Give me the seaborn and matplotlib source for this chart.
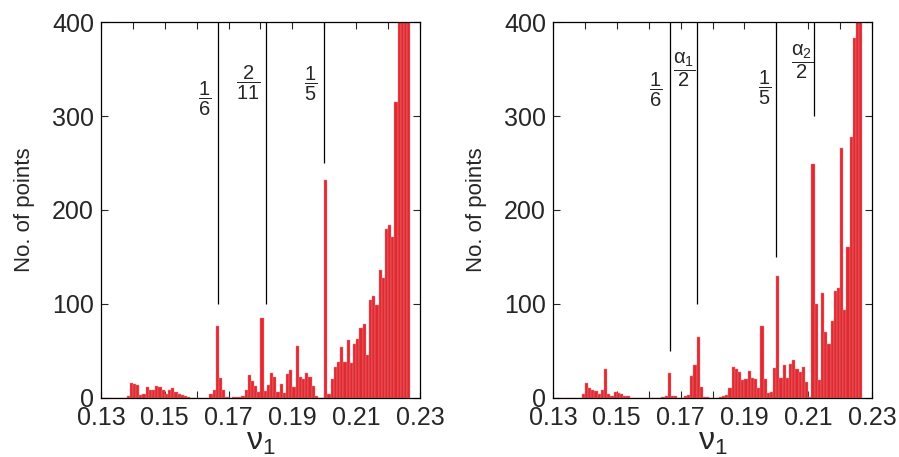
import numpy as np
import pandas as pd
import matplotlib
matplotlib.use("Agg")
import matplotlib.pyplot as plt
import seaborn as sns

# bin edges of the histogram (width 0.001)
bin_edges = np.round(np.arange(0.130, 0.2275, 0.001), 3)

# left panel counts, one per bin
counts_left = [0, 0, 0, 0, 0, 0, 0, 0,
               2, 16, 14, 13, 3, 4, 11, 8,
               8, 12, 11, 8, 4, 8, 10, 6,
               4, 3, 2, 1, 0, 0, 0, 0,
               0, 0, 4, 8, 76, 21, 8, 1,
               0, 1, 1, 1, 2, 8, 24, 18,
               12, 6, 85, 7, 13, 26, 22, 6,
               14, 5, 25, 29, 11, 55, 22, 20,
               26, 22, 12, 2, 0, 0, 232, 4,
               20, 33, 38, 54, 38, 61, 37, 57,
               62, 74, 78, 45, 104, 108, 99, 136,
               128, 180, 184, 171, 315, 430, 520, 610, 700]

# right panel counts
counts_right = [0, 0, 0, 0, 0, 0, 0, 0,
                0, 4, 16, 10, 8, 7, 4, 8,
                30, 4, 2, 6, 5, 4, 2, 2,
                0, 0, 0, 0, 0, 0, 0, 0,
                0, 0, 1, 2, 26, 2, 2, 0,
                0, 2, 3, 23, 35, 65, 11, 1,
                1, 0, 0, 0, 1, 2, 3, 10,
                33, 30, 27, 19, 20, 28, 21, 20,
                10, 76, 20, 5, 6, 31, 130, 21,
                35, 21, 36, 40, 30, 27, 33, 17,
                1, 249, 100, 19, 112, 70, 57, 82,
                114, 117, 266, 93, 160, 278, 383, 450, 520]

# resonance markers: position, lower end of the line, label, label height
marks_left = [1 / 6, 2 / 11, 1 / 5]
marks_left_bottom = [100, 100, 250]
marks_left_text = [r'$\dfrac{1}{6}$', r'$\dfrac{2}{11}$', r'$\dfrac{1}{5}$']
marks_left_y = [319, 336, 335]
marks_left_gap = [5, 4.5, 5]

marks_right = [1 / 6, 0.1752, 1 / 5, 0.2119]
marks_right_bottom = [50, 100, 150, 300]
marks_right_text = [r'$\dfrac{1}{6}$', r'$\dfrac{\alpha_1}{2}$',
                    r'$\dfrac{1}{5}$', r'$\dfrac{\alpha_2}{2}$']
marks_right_y = [328, 350, 330, 358]
marks_right_gap = [5.5, 1.5, 3.5, 1]

xticks = [0.13, 0.14, 0.15, 0.16, 0.17, 0.18, 0.19, 0.20, 0.21, 0.22, 0.23]
xticklabels = ['0.13', '', '0.15', '', '0.17', '', '0.19', '', '0.21', '', '0.23']
yticks = [0, 100, 200, 300, 400]

sns.set_style('ticks')
plt.rcParams['font.family'] = ['Liberation Sans', 'DejaVu Sans']
plt.rcParams['mathtext.fontset'] = 'custom'
plt.rcParams['mathtext.rm'] = 'Liberation Sans'
plt.rcParams['mathtext.it'] = 'Liberation Sans'
plt.rcParams['mathtext.bf'] = 'Liberation Sans:bold'

bar_color = '#e02a32'

fig = plt.figure(figsize=(8.99, 4.57), dpi=100)
ax1 = fig.add_axes([101 / 899, 59.5 / 457, 319 / 899, 375 / 457])
ax2 = fig.add_axes([553 / 899, 59.5 / 457, 319 / 899, 375 / 457])

panels = [
    (ax1, counts_left, marks_left, marks_left_bottom, marks_left_text, marks_left_y, marks_left_gap),
    (ax2, counts_right, marks_right, marks_right_bottom, marks_right_text, marks_right_y, marks_right_gap),
]

for ax, counts, marks, bottoms, texts, ys, gaps in panels:
    df = pd.DataFrame({'nu': (bin_edges[:-1] + bin_edges[1:]) / 2, 'n': counts})
    sns.histplot(data=df, x='nu', weights='n', bins=list(bin_edges), ax=ax,
                 color=bar_color, alpha=1, edgecolor='#f07d82', linewidth=0.3)

    ax.vlines(marks, bottoms, 400, color='black', linewidth=0.9, zorder=3)
    for m, t, y, g in zip(marks, texts, ys, gaps):
        ax.annotate(t, xy=(m, y), xytext=(-g, 0), textcoords='offset points',
                    ha='right', va='center', fontsize=14.5)

    ax.set_xlim(0.13, 0.23)
    ax.set_ylim(0, 400)
    ax.set_xticks(xticks)
    ax.set_xticklabels(xticklabels)
    ax.set_yticks(yticks)
    ax.tick_params(direction='in', length=5, width=0.8, top=True, right=True,
                   labelsize=18)
    ax.tick_params(axis='x', pad=6)
    ax.tick_params(axis='y', pad=5)
    for s in ax.spines.values():
        s.set_linewidth(0.9)
        s.set_color('black')
    ax.set_xlabel(r'$\nu_1$', fontsize=23, labelpad=-2)
    ax.set_ylabel('No. of points', fontsize=16, labelpad=12)

fig.savefig('out.png', dpi=100)
